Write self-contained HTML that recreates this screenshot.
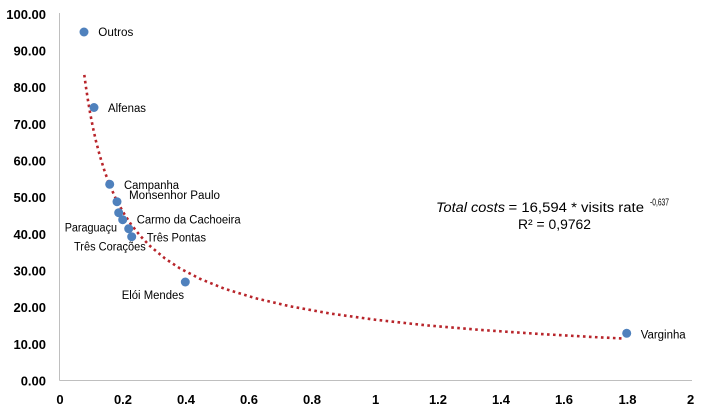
<!DOCTYPE html>
<html><head><meta charset="utf-8"><style>
html,body{margin:0;padding:0;background:#fff;}
svg{display:block;}
text{font-family:"Liberation Sans",sans-serif;fill:#000;}
.ax{font-weight:bold;font-size:13px;}
.lb{font-size:11.5px;fill:#222;}
</style></head><body>
<svg width="702" height="411" viewBox="0 0 702 411" xmlns="http://www.w3.org/2000/svg">
<rect width="702" height="411" fill="#fff"/>
<line x1="59.5" y1="13" x2="59.5" y2="380.5" stroke="#bfbfbf" stroke-width="1"/>
<line x1="59.5" y1="380.5" x2="692" y2="380.5" stroke="#bfbfbf" stroke-width="1"/>
<g class="ax" text-anchor="end">
<text x="46" y="385.5">0.00</text>
<text x="46" y="348.8">10.00</text>
<text x="46" y="312.1">20.00</text>
<text x="46" y="275.5">30.00</text>
<text x="46" y="238.8">40.00</text>
<text x="46" y="202.2">50.00</text>
<text x="46" y="165.5">60.00</text>
<text x="46" y="128.8">70.00</text>
<text x="46" y="92.2">80.00</text>
<text x="46" y="55.5">90.00</text>
<text x="46" y="18.8">100.00</text>
</g>
<g class="ax" text-anchor="middle">
<text x="60" y="404">0</text>
<text x="123" y="404">0.2</text>
<text x="186" y="404">0.4</text>
<text x="249" y="404">0.6</text>
<text x="312" y="404">0.8</text>
<text x="375.6" y="404">1</text>
<text x="438" y="404">1.2</text>
<text x="501" y="404">1.4</text>
<text x="564" y="404">1.6</text>
<text x="627.5" y="404">1.8</text>
<text x="690.6" y="404">2</text>
</g>
<polyline fill="none" stroke="#b8252b" stroke-width="2.6" stroke-dasharray="2.6 3.4"
points="84.3,74.9 86,87.4 88,100.5 90,112.4 93,127.8 96,141.2 100,156.4 105,172.4 110,185.7 116,199.1 123,212.0 131,224.3 140,235.6 150,246.0 165,258.5 180,268.4 200,278.8 225,288.9 255,298.1 290,306.3 330,313.5 375,319.7 425,325.2 480,329.9 540,334.0 600,337.4 621.7,338.4"/>
<g fill="#4f81bd">
<circle cx="84" cy="32" r="4.5"/>
<circle cx="94" cy="107.5" r="4.5"/>
<circle cx="109.7" cy="184.3" r="4.5"/>
<circle cx="117" cy="201.7" r="4.5"/>
<circle cx="118.7" cy="212.7" r="4.5"/>
<circle cx="122.7" cy="219.7" r="4.5"/>
<circle cx="128.7" cy="228.7" r="4.5"/>
<circle cx="131.7" cy="236.7" r="4.5"/>
<circle cx="185.3" cy="282" r="4.5"/>
<circle cx="626.7" cy="333.3" r="4.5"/>
</g>
<g class="lb">
<text x="98.3" y="36" textLength="35" lengthAdjust="spacingAndGlyphs">Outros</text>
<text x="108" y="112" textLength="38" lengthAdjust="spacingAndGlyphs">Alfenas</text>
<text x="124" y="189" textLength="55" lengthAdjust="spacingAndGlyphs">Campanha</text>
<text x="129" y="199" textLength="91" lengthAdjust="spacingAndGlyphs">Monsenhor Paulo</text>
<text x="136.7" y="223.3" textLength="104" lengthAdjust="spacingAndGlyphs">Carmo da Cachoeira</text>
<text x="64.7" y="231.5" textLength="52.3" lengthAdjust="spacingAndGlyphs">Paraguaçu</text>
<text x="146.7" y="241.3" textLength="59.3" lengthAdjust="spacingAndGlyphs">Três Pontas</text>
<text x="74" y="250.7" textLength="71.7" lengthAdjust="spacingAndGlyphs">Três Corações</text>
<text x="121.7" y="299" textLength="62.3" lengthAdjust="spacingAndGlyphs">Elói Mendes</text>
<text x="640.7" y="338.3" textLength="45" lengthAdjust="spacingAndGlyphs">Varginha</text>
</g>
<g style="font-size:13.5px">
<text x="436" y="212" font-style="italic" textLength="69" lengthAdjust="spacingAndGlyphs">Total costs</text>
<text x="508.5" y="212" textLength="135.5" lengthAdjust="spacingAndGlyphs">= 16,594 * visits rate</text>
<text x="650" y="205.5" style="font-size:10px" textLength="19" lengthAdjust="spacingAndGlyphs">-0,637</text>
<text x="518" y="229" textLength="73" lengthAdjust="spacingAndGlyphs">R² = 0,9762</text>
</g>
</svg>
</body></html>
